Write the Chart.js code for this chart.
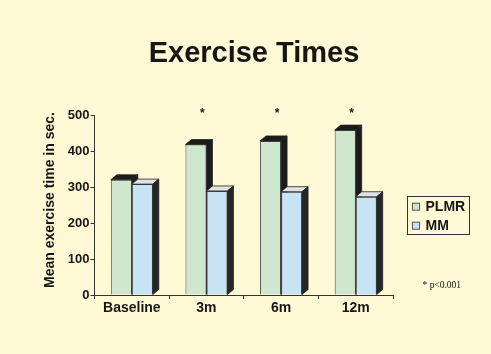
<!DOCTYPE html>
<html>
<head>
<meta charset="utf-8">
<script src="https://cdn.jsdelivr.net/npm/chart.js@4/dist/chart.umd.min.js"></script>
<style>
  html, body { margin: 0; padding: 0; background: #fff9d6; }
  #wrap { width: 491px; height: 354px; position: relative; }
  canvas { display: block; }
</style>
</head>
<body>
<div id="wrap"><canvas id="chart" width="491" height="354"></canvas></div>
<script>
// Chart text
const chartTitle = 'Exercise Times';
const yAxisTitle = 'Mean exercise time in sec.';
const footnote = '* p<0.001';

// Data
const categories = ['Baseline', '3m', '6m', '12m'];
const seriesNames = ['PLMR', 'MM'];
const plmrValues = [320, 418, 428, 458];
const mmValues = [308, 289, 287, 273];
const significance = ['', '*', '*', '*'];
const yTickValues = [0, 100, 200, 300, 400, 500];

// Look
const SANS = '"Liberation Sans", Arial, Helvetica, sans-serif';
const SERIF = '"Liberation Serif", "Times New Roman", serif';
const INK = '#161616';
const faceColors = ['#cfe6cf', '#c6e4f4'];
const topColors = ['#1b1b1b', '#e2e2e2'];
const sideColors = ['#1b1b1b', '#252525'];
const DEPTH_X = 6, DEPTH_Y = 5;

function poly(ctx, pts, fill) {
  ctx.beginPath();
  ctx.moveTo(pts[0][0], pts[0][1]);
  for (let k = 1; k < pts.length; k++) ctx.lineTo(pts[k][0], pts[k][1]);
  ctx.closePath();
  ctx.fillStyle = fill;
  ctx.fill();
  ctx.lineWidth = 0.8;
  ctx.strokeStyle = '#222';
  ctx.stroke();
}

// Extruded bar tops/sides, plus the slide's title, legend and notes
const slideDecor = {
  id: 'slideDecor',
  afterDatasetsDraw(chart) {
    const ctx = chart.ctx;
    const metas = chart.data.datasets.map((d, i) => chart.getDatasetMeta(i));
    ctx.save();
    for (let j = 0; j < categories.length; j++) {
      metas.forEach((meta, i) => {
        const bar = meta.data[j];
        const { x, y, base, width } = bar.getProps(['x', 'y', 'base', 'width'], true);
        if (i > 0) bar.draw(ctx); // front face sits over the neighbour's side
        const l = x - width / 2, r = x + width / 2;
        poly(ctx, [[l, y], [l + DEPTH_X, y - DEPTH_Y], [r + DEPTH_X, y - DEPTH_Y], [r, y]], topColors[i]);
        poly(ctx, [[r, y], [r + DEPTH_X, y - DEPTH_Y], [r + DEPTH_X, base - DEPTH_Y], [r, base]], sideColors[i]);
      });
    }
    ctx.restore();
  },
  afterDraw(chart) {
    const ctx = chart.ctx;
    const xs = chart.scales.x;
    ctx.save();
    ctx.fillStyle = INK;

    // Title
    ctx.font = 'bold 29px ' + SANS;
    ctx.textAlign = 'center';
    ctx.textBaseline = 'alphabetic';
    ctx.fillText(chartTitle, 254, 61.5);

    // Y axis title
    ctx.save();
    ctx.translate(50, 200);
    ctx.rotate(-Math.PI / 2);
    ctx.font = 'bold 14px ' + SANS;
    ctx.textAlign = 'center';
    ctx.textBaseline = 'middle';
    ctx.fillText(yAxisTitle, 0, 0);
    ctx.restore();

    // Significance markers
    ctx.font = 'bold 12px ' + SANS;
    ctx.textAlign = 'center';
    ctx.textBaseline = 'middle';
    significance.forEach((s, j) => {
      if (s) ctx.fillText(s, xs.getPixelForValue(j) - 4, 114);
    });

    // Legend
    ctx.lineWidth = 1;
    ctx.strokeStyle = '#333';
    ctx.strokeRect(407.5, 196.5, 62, 38);
    ctx.font = 'bold 14px ' + SANS;
    ctx.textAlign = 'left';
    ctx.textBaseline = 'middle';
    chart.data.datasets.forEach((ds, i) => {
      const cy = 206.7 + i * 19;
      ctx.fillStyle = ds.backgroundColor;
      ctx.fillRect(412.5, cy - 3.5, 7, 7);
      ctx.strokeStyle = '#555';
      ctx.strokeRect(412.5, cy - 3.5, 7, 7);
      ctx.fillStyle = INK;
      ctx.fillText(ds.label, 425.5, cy + 0.5);
    });

    // Footnote
    ctx.font = '9.5px ' + SERIF;
    ctx.textAlign = 'left';
    ctx.fillText(footnote, 422.5, 285.5);
    ctx.restore();
  }
};

Chart.defaults.font.family = SANS;
Chart.defaults.color = INK;

new Chart(document.getElementById('chart'), {
  type: 'bar',
  data: {
    labels: categories,
    datasets: [
      { label: seriesNames[0], data: plmrValues, backgroundColor: faceColors[0] },
      { label: seriesNames[1], data: mmValues, backgroundColor: faceColors[1] }
    ]
  },
  options: {
    responsive: false,
    devicePixelRatio: 1,
    animation: false,
    layout: { padding: { top: 115, right: 98, bottom: 29, left: 0 } },
    datasets: {
      bar: {
        categoryPercentage: 0.563,
        barPercentage: 1.0,
        borderWidth: 1,
        borderColor: '#4a4a4a'
      }
    },
    plugins: {
      legend: { display: false },
      title: { display: false },
      tooltip: { enabled: false }
    },
    scales: {
      x: {
        grid: { display: true, drawOnChartArea: false, drawTicks: true, tickLength: 4, color: '#333', offset: true },
        border: { display: true, color: '#333', width: 1 },
        ticks: { font: { size: 14, weight: 'bold' }, color: INK, padding: 1, maxRotation: 0 },
        afterFit(scale) { scale.height = 30; }
      },
      y: {
        min: 0,
        max: 500,
        afterBuildTicks(scale) { scale.ticks = yTickValues.map(v => ({ value: v })); },
        grid: { display: true, drawOnChartArea: false, drawTicks: true, tickLength: 4, color: '#333' },
        border: { display: true, color: '#333', width: 1 },
        ticks: { font: { size: 13, weight: 'bold' }, color: INK, padding: 1 },
        afterFit(scale) { scale.width = 94.5; }
      }
    }
  },
  plugins: [slideDecor]
});
</script>
</body>
</html>
